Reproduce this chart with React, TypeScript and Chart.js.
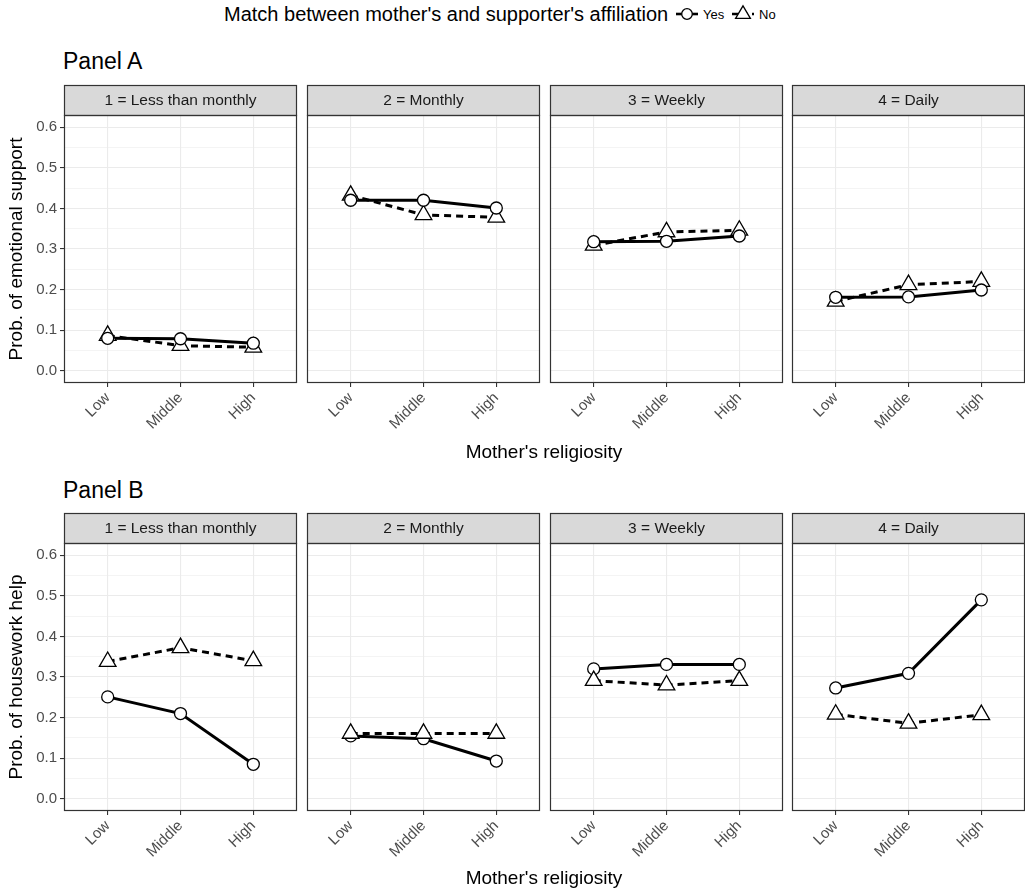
import React, { useEffect, useRef } from "react";
import { Chart, registerables } from "chart.js";

Chart.register(...registerables);

const FONT = '"Liberation Sans", Arial, Helvetica, sans-serif';

// ---------- data ----------
const religiosityLevels = ["Low", "Middle", "High"];
const frequencyFacets = ["1 = Less than monthly", "2 = Monthly", "3 = Weekly", "4 = Daily"];
const yMajorTicks = [0, 0.1, 0.2, 0.3, 0.4, 0.5, 0.6];
const yMinorTicks = [0.05, 0.15, 0.25, 0.35, 0.45, 0.55];
const yLimits = [0, 0.6];

// Panel A: probability of emotional support (one row per facet, Low/Middle/High)
const emotionalYes = [
  [0.08, 0.079, 0.068],
  [0.42, 0.42, 0.401],
  [0.318, 0.319, 0.332],
  [0.181, 0.182, 0.199],
];
const emotionalNo = [
  [0.087, 0.062, 0.058],
  [0.432, 0.384, 0.378],
  [0.309, 0.342, 0.346],
  [0.171, 0.212, 0.22],
];

// Panel B: probability of housework help
const houseworkYes = [
  [0.251, 0.21, 0.085],
  [0.155, 0.148, 0.093],
  [0.32, 0.331, 0.331],
  [0.273, 0.309, 0.49],
];
const houseworkNo = [
  [0.338, 0.372, 0.34],
  [0.161, 0.161, 0.161],
  [0.291, 0.28, 0.291],
  [0.208, 0.186, 0.207],
];

// ---------- layout ----------
const FACET_LEFTS = [64, 307, 550, 792];
const PLOT_W = 233;
const PLOT_H = 268;
const STRIP_H = 30;
const X_AXIS_H = 62;
const Y_EXPAND = (yLimits[1] - yLimits[0]) * 0.05;
const X_EXPAND = 0.6;

const isMajor = (v: number) => yMajorTicks.some((m) => Math.abs(m - v) < 1e-6);

const facetDecor = {
  id: "facetDecor",
  afterDraw(chart: any, _args: any, opts: any) {
    const { ctx, chartArea: a } = chart;
    ctx.save();
    const w = a.right - a.left;
    // strip
    ctx.fillStyle = "#D9D9D9";
    ctx.fillRect(a.left, a.top - STRIP_H, w, STRIP_H);
    ctx.strokeStyle = "#333333";
    ctx.lineWidth = 1.2;
    ctx.strokeRect(a.left + 0.5, a.top - STRIP_H + 0.5, w - 1, STRIP_H);
    ctx.fillStyle = "#1A1A1A";
    ctx.font = `15.5px ${FONT}`;
    ctx.textAlign = "center";
    ctx.textBaseline = "middle";
    ctx.fillText(opts.label, a.left + w / 2, a.top - STRIP_H / 2 + 1);
    // panel border
    ctx.strokeStyle = "#333333";
    ctx.lineWidth = 1.2;
    ctx.strokeRect(a.left + 0.5, a.top + 0.5, w - 1, a.bottom - a.top - 1);
    ctx.restore();
  },
};

type FacetProps = {
  index: number;
  stripTop: number;
  yes: number[];
  no: number[];
  yTitle: string;
  yesOnTop: boolean;
};

function Facet({ index, stripTop, yes, no, yTitle, yesOnTop }: FacetProps) {
  const ref = useRef<HTMLCanvasElement>(null);
  const first = index === 0;
  const plotLeft = FACET_LEFTS[index];
  const axisW = first ? plotLeft : 0;
  const padLeft = first ? 0 : 1;
  const canvasLeft = first ? 0 : plotLeft - 1;
  const width = axisW + padLeft + PLOT_W + 1;
  const height = 1 + STRIP_H + PLOT_H + X_AXIS_H;

  useEffect(() => {
    if (!ref.current) return;
    const pts = (arr: number[]) => arr.map((y, i) => ({ x: i + 1, y }));
    const chart = new Chart(ref.current, {
      type: "line",
      data: {
        datasets: [
          {
            label: "Yes points",
            data: pts(yes),
            showLine: false,
            pointStyle: "circle",
            pointRadius: 6,
            pointBackgroundColor: "#ffffff",
            pointBorderColor: "#000000",
            pointBorderWidth: 1.3,
            order: yesOnTop ? 0 : 1,
          },
          {
            label: "No points",
            data: pts(no),
            showLine: false,
            pointStyle: "triangle",
            pointRadius: 9.6,
            pointBackgroundColor: "#ffffff",
            pointBorderColor: "#000000",
            pointBorderWidth: 1.3,
            order: yesOnTop ? 1 : 0,
          },
          {
            label: "Yes line",
            data: pts(yes),
            borderColor: "#000000",
            borderWidth: 3,
            pointRadius: 0,
            tension: 0,
            fill: false,
            order: 10,
          },
          {
            label: "No line",
            data: pts(no),
            borderColor: "#000000",
            borderWidth: 3,
            borderDash: [7, 5],
            pointRadius: 0,
            tension: 0,
            fill: false,
            order: 11,
          },
        ],
      },
      options: {
        animation: false,
        responsive: false,
        maintainAspectRatio: false,
        events: [],
        layout: { autoPadding: false, padding: { top: 1 + STRIP_H, left: padLeft, right: 1, bottom: 0 } },
        plugins: {
          legend: { display: false },
          tooltip: { enabled: false },
          facetDecor: { label: frequencyFacets[index] },
        } as any,
        scales: {
          x: {
            type: "linear",
            min: 1 - X_EXPAND,
            max: religiosityLevels.length + X_EXPAND,
            afterBuildTicks: (s: any) => {
              s.ticks = religiosityLevels.map((_, i) => ({ value: i + 1 }));
            },
            afterFit: (s: any) => {
              s.height = X_AXIS_H;
              s.paddingLeft = 0;
              s.paddingRight = 0;
            },
            grid: {
              color: "#EBEBEB",
              lineWidth: 1.1,
              drawTicks: true,
              tickLength: 4,
              tickColor: "#333333",
              tickWidth: 1.1,
            },
            border: { display: false },
            ticks: {
              autoSkip: false,
              minRotation: 45,
              maxRotation: 45,
              padding: 2,
              color: "#4D4D4D",
              font: { size: 15, family: FONT },
              callback: (v: any) => religiosityLevels[Math.round(Number(v)) - 1],
            },
          },
          y: {
            type: "linear",
            min: yLimits[0] - Y_EXPAND,
            max: yLimits[1] + Y_EXPAND,
            afterBuildTicks: (s: any) => {
              s.ticks = [...yMajorTicks, ...yMinorTicks]
                .sort((a, b) => a - b)
                .map((v) => ({ value: v }));
            },
            afterFit: (s: any) => {
              s.width = axisW;
              s.paddingTop = 0;
              s.paddingBottom = 0;
            },
            grid: {
              color: "#EBEBEB",
              lineWidth: (c: any) => (c.tick && isMajor(c.tick.value) ? 1.1 : 0.55),
              drawTicks: first,
              tickLength: 4,
              tickWidth: 1.1,
              tickColor: (c: any) => (c.tick && isMajor(c.tick.value) ? "#333333" : "rgba(0,0,0,0)"),
            },
            border: { display: false },
            ticks: {
              display: first,
              padding: 3,
              color: "#4D4D4D",
              font: { size: 15, family: FONT },
              callback: (v: any) => (isMajor(Number(v)) ? Number(v).toFixed(1) : ""),
            },
            title: {
              display: first,
              text: yTitle,
              color: "#000000",
              font: { size: 19, family: FONT },
              padding: { top: 5, bottom: 0 },
            },
          },
        },
      },
      plugins: [facetDecor],
    } as any);
    return () => chart.destroy();
  }, []);

  return (
    <canvas
      ref={ref}
      width={width}
      height={height}
      style={{ position: "absolute", left: canvasLeft, top: stripTop - 1, width, height }}
    />
  );
}

function Text({ text, left, centerY, size, center }: { text: string; left: number; centerY: number; size: number; center?: boolean }) {
  return (
    <div
      style={{
        position: "absolute",
        left,
        top: centerY - size / 2,
        fontSize: size,
        lineHeight: 1,
        whiteSpace: "nowrap",
        color: "#000",
        transform: center ? "translateX(-50%)" : undefined,
      }}
    >
      {text}
    </div>
  );
}

function KeyGlyph({ shape, left, centerY }: { shape: "circle" | "triangle"; left: number; centerY: number }) {
  return (
    <svg width={22} height={20} style={{ position: "absolute", left, top: centerY - 10 }}>
      <line
        x1={0}
        y1={10}
        x2={22}
        y2={10}
        stroke="#000"
        strokeWidth={2.6}
        strokeDasharray={shape === "triangle" ? "6 4" : undefined}
      />
      {shape === "circle" ? (
        <circle cx={11} cy={10} r={5.3} fill="#fff" stroke="#000" strokeWidth={1.3} />
      ) : (
        <polygon points="11,1.8 18.4,14.3 3.6,14.3" fill="#fff" stroke="#000" strokeWidth={1.3} />
      )}
    </svg>
  );
}

const panels = [
  { name: "Panel A", yTitle: "Prob. of emotional support", yes: emotionalYes, no: emotionalNo, stripTop: 85, titleY: 61, xTitleY: 451, yesOnTop: true },
  { name: "Panel B", yTitle: "Prob. of housework help", yes: houseworkYes, no: houseworkNo, stripTop: 513, titleY: 490, xTitleY: 877, yesOnTop: false },
];

export default function App() {
  return (
    <div
      style={{
        position: "absolute",
        left: 0,
        top: 0,
        width: 1025,
        height: 890,
        background: "#ffffff",
        fontFamily: FONT,
        overflow: "hidden",
      }}
    >
      <Text text="Match between mother's and supporter's affiliation" left={224} centerY={14} size={20} />
      <KeyGlyph shape="circle" left={676} centerY={14} />
      <Text text="Yes" left={703} centerY={14} size={13} />
      <KeyGlyph shape="triangle" left={732} centerY={14} />
      <Text text="No" left={759} centerY={14} size={13} />

      {panels.map((p) => (
        <React.Fragment key={p.name}>
          <Text text={p.name} left={63} centerY={p.titleY} size={23} />
          {frequencyFacets.map((f, i) => (
            <Facet
              key={p.name + f}
              index={i}
              stripTop={p.stripTop}
              yes={p.yes[i]}
              no={p.no[i]}
              yTitle={p.yTitle}
              yesOnTop={p.yesOnTop}
            />
          ))}
          <Text text="Mother's religiosity" left={544} centerY={p.xTitleY} size={19} center />
        </React.Fragment>
      ))}
    </div>
  );
}
